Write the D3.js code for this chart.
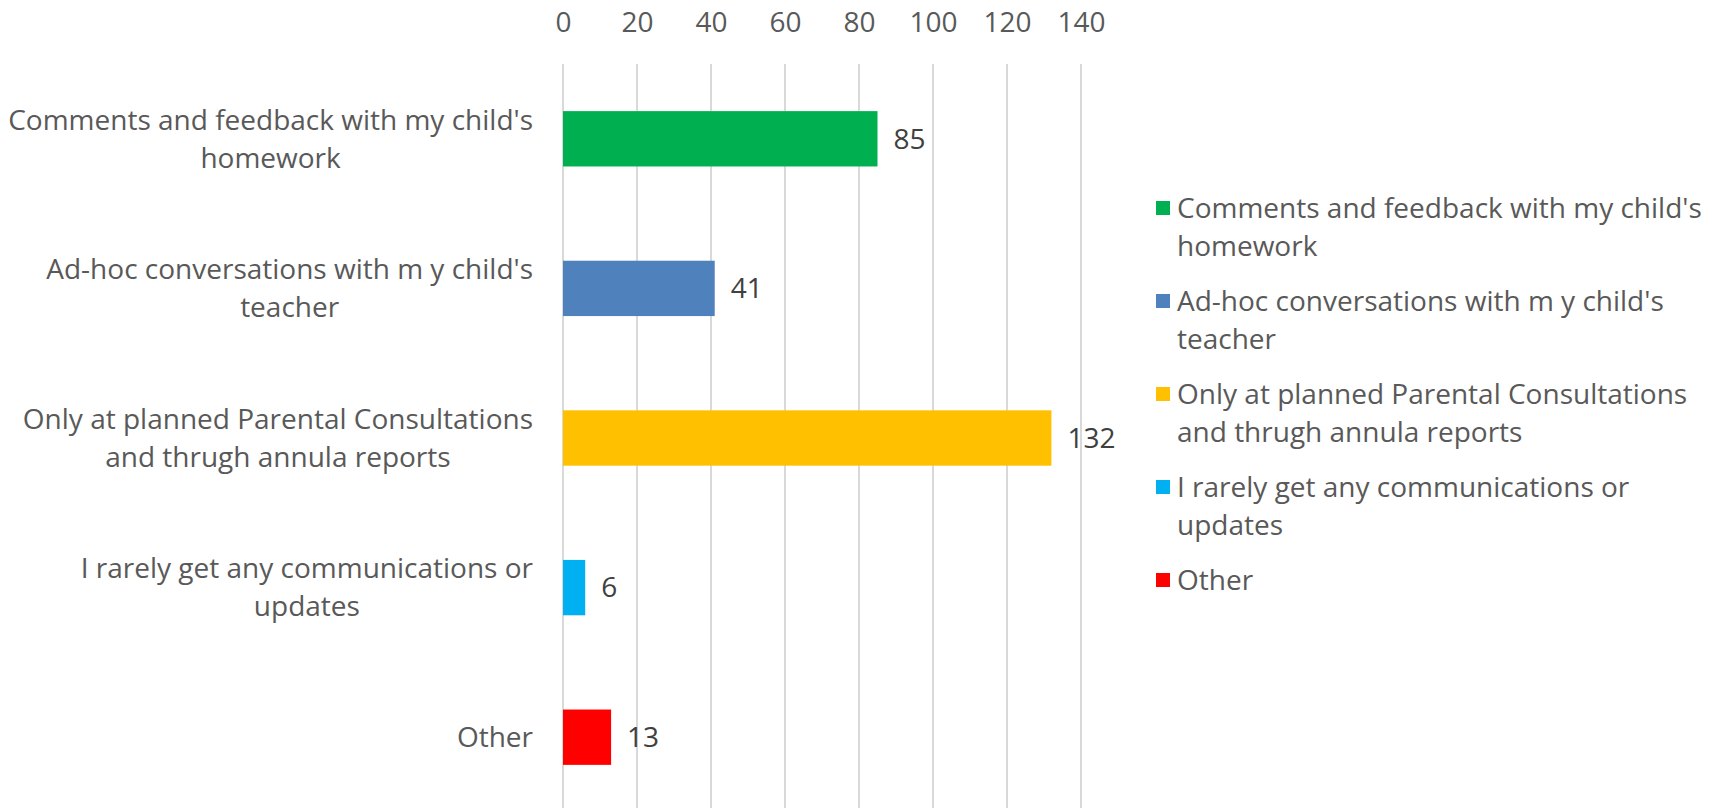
<!DOCTYPE html>
<html>
<head>
<meta charset="utf-8">
<script src="https://cdn.jsdelivr.net/npm/d3@7"></script>
<style>
  body { margin: 0; background: #fff; }
  text { font-family: "Open Sans", sans-serif; }
</style>
</head>
<body>
<div id="wrapper"></div>
<script>
const categories = [
  "Comments and feedback with my child's homework",
  "Ad-hoc conversations with m y child's teacher",
  "Only at planned Parental Consultations and thrugh annula reports",
  "I rarely get any communications or updates",
  "Other"
]
const values = [85, 41, 132, 6, 13]
const colors = ["#00b050", "#4f81bd", "#ffc000", "#00b0f0", "#ff0000"]
const xTicks = [0, 20, 40, 60, 80, 100, 120, 140]

const dimensions = {
  width: 1714,
  height: 808,
  margin: { top: 64, right: 633, bottom: -4, left: 563 }
}
dimensions.boundedWidth = dimensions.width - dimensions.margin.left - dimensions.margin.right
dimensions.boundedHeight = dimensions.height - dimensions.margin.top - dimensions.margin.bottom

const fontSize = 28

const svg = d3.select("#wrapper").append("svg")
  .attr("width", dimensions.width)
  .attr("height", dimensions.height)

const bounds = svg.append("g")
  .attr("transform", `translate(${dimensions.margin.left},${dimensions.margin.top})`)

const xScale = d3.scaleLinear()
  .domain([0, 140])
  .range([0, 518])

const yScale = d3.scaleBand()
  .domain(categories)
  .range([0, dimensions.boundedHeight])
  .paddingInner(0.63)
  .paddingOuter(0.315)

// gridlines
bounds.selectAll(".grid")
  .data(xTicks)
  .join("line")
  .attr("x1", d => xScale(d))
  .attr("x2", d => xScale(d))
  .attr("y1", 0)
  .attr("y2", dimensions.boundedHeight + 10)
  .attr("stroke", "#d9d9d9")
  .attr("stroke-width", 2)

// top axis labels
const xAxis = d3.axisTop(xScale).tickValues(xTicks).tickSize(0).tickPadding(0)
const xAxisG = svg.append("g")
  .attr("transform", `translate(${dimensions.margin.left},0)`)
  .call(xAxis)
xAxisG.select(".domain").remove()
xAxisG.selectAll("text")
  .attr("y", 22)
  .attr("dy", "0.35em")
  .attr("fill", "#595959")
  .style("font-size", fontSize + "px")
  .style("font-family", "'Open Sans', sans-serif")

// bars
bounds.selectAll("rect")
  .data(values)
  .join("rect")
  .attr("x", 0)
  .attr("y", (d, i) => yScale(categories[i]))
  .attr("width", d => xScale(d))
  .attr("height", yScale.bandwidth())
  .attr("fill", (d, i) => colors[i])

// value labels
bounds.selectAll(".val")
  .data(values)
  .join("text")
  .attr("class", "val")
  .attr("x", d => xScale(d) + 16)
  .attr("y", (d, i) => yScale(categories[i]) + yScale.bandwidth() / 2)
  .attr("dy", "0.35em")
  .attr("fill", "#404040")
  .style("font-size", fontSize + "px")
  .text(d => d)

// wrap helper
function wrapLines(text, maxWidth) {
  const probe = svg.append("text").style("font-size", fontSize + "px")
  const words = text.split(" ")
  const lines = []
  let line = []
  words.forEach(w => {
    const test = line.concat(w).join(" ")
    probe.text(test)
    if (probe.node().getComputedTextLength() > maxWidth && line.length) {
      lines.push(line.join(" "))
      line = [w]
    } else {
      line.push(w)
    }
  })
  lines.push(line.join(" "))
  probe.remove()
  return lines
}

const lineHeight = 38

// category labels
categories.forEach((c, i) => {
  const lines = wrapLines(c, 532)
  const cy = dimensions.margin.top + yScale(c) + yScale.bandwidth() / 2
  const t = svg.append("text")
    .attr("text-anchor", "middle")
    .attr("fill", "#595959")
    .style("font-size", fontSize + "px")
  const maxW = d3.max(lines, l => {
    const p = svg.append("text").style("font-size", fontSize + "px").text(l)
    const w = p.node().getComputedTextLength()
    p.remove()
    return w
  })
  lines.forEach((l, j) => {
    t.append("tspan")
      .attr("x", 533 - maxW / 2)
      .attr("y", cy + (j - (lines.length - 1) / 2) * lineHeight)
      .attr("dy", "0.35em")
      .text(l)
  })
})

// legend
const legend = svg.append("g").attr("transform", "translate(1156,0)")
let ly = 208
categories.forEach((c, i) => {
  const lines = wrapLines(c, 532)
  legend.append("rect")
    .attr("x", 0)
    .attr("y", ly - 7)
    .attr("width", 14)
    .attr("height", 14)
    .attr("fill", colors[i])
  lines.forEach((l, j) => {
    legend.append("text")
      .attr("x", 21)
      .attr("y", ly + j * lineHeight)
      .attr("dy", "0.35em")
      .attr("fill", "#595959")
      .style("font-size", fontSize + "px")
      .text(l)
  })
  ly += lines.length * lineHeight + 17
})
</script>
</body>
</html>
